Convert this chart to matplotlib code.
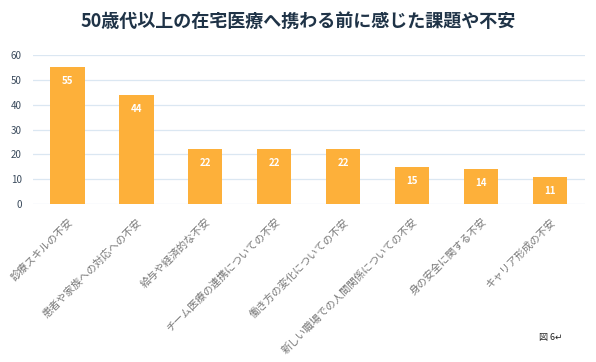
import matplotlib
matplotlib.use("Agg")
import matplotlib.pyplot as plt

plt.rcParams['font.family'] = ['Noto Sans CJK JP', 'DejaVu Sans']

title = "50歳代以上の在宅医療へ携わる前に感じた課題や不安"
categories = [
    "診療スキルの不安",
    "患者や家族への対応への不安",
    "給与や経済的な不安",
    "チーム医療の連携についての不安",
    "働き方の変化についての不安",
    "新しい職場での人間関係についての不安",
    "身の安全に関する不安",
    "キャリア形成の不安",
]
values = [55, 44, 22, 22, 22, 15, 14, 11]
yticks = [0, 10, 20, 30, 40, 50, 60]

fig = plt.figure(figsize=(5.96, 3.62), dpi=100)
ax = fig.add_axes([0.055, 0.436, 0.926, 0.412])

x = range(len(values))
bars = ax.bar(x, values, width=0.5, color="#FDB03A", zorder=3)

for rect, v in zip(bars, values):
    ax.annotate(str(v), (rect.get_x() + rect.get_width() / 2, v),
                xytext=(0, -10), textcoords="offset points",
                ha="center", va="center", color="white", fontsize=7, fontweight="bold")

ax.set_xlim(-0.5, len(values) - 0.5)
ax.set_ylim(0, 60)
ax.set_yticks(yticks)
ax.set_yticklabels([str(t) for t in yticks], fontsize=7, color="#3a4a5c")
ax.grid(axis="y", color="#dbe7f2", linewidth=0.9, zorder=0)
ax.set_xticks(list(x))
ax.set_xticklabels(categories, rotation=45, ha="right", rotation_mode="anchor",
                   fontsize=7.5, color="#777777")
ax.tick_params(axis="y", length=0, pad=8)
ax.tick_params(axis="x", length=0, pad=9)
for s in ax.spines.values():
    s.set_visible(False)

fig.text(0.5, 0.942, title, ha="center", va="center", fontsize=13,
         fontweight="bold", color="#1f3347")
fig.text(0.905, 0.068, "図 6↵", ha="left", va="center", fontsize=6.5, color="#222222")

fig.savefig("out.png", dpi=100)
